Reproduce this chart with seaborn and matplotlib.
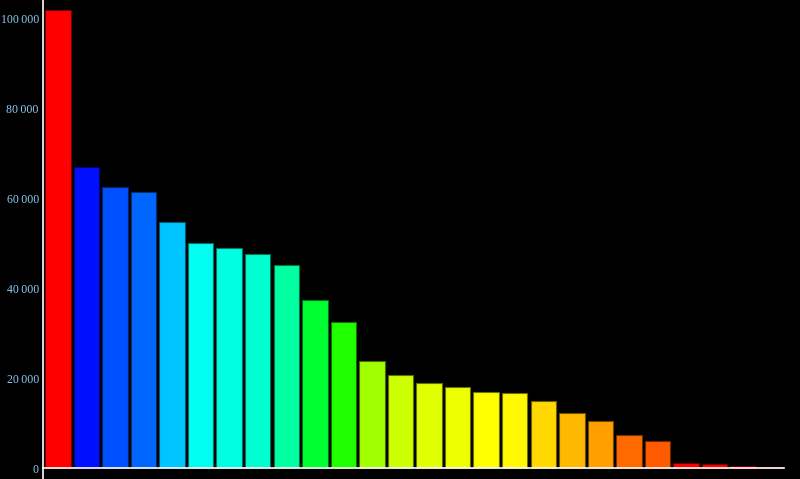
import numpy as np
import pandas as pd
import matplotlib
matplotlib.use('Agg')
import matplotlib.pyplot as plt
import matplotlib.colors as mcolors
from matplotlib.ticker import FuncFormatter, MultipleLocator
import seaborn as sns

# data
categories = [f'c{i+1}' for i in range(26)]
values = [101800, 67000, 62500, 61400, 54700, 50000, 48900, 47600, 45200,
          37400, 32500, 23800, 20700, 18900, 18000, 16900, 16700, 14900,
          12200, 10500, 7300, 6000, 1100, 800, 500, 200]
bar_colors = ['#ff0000', '#0010ff', '#0050ff', '#0066ff', '#00c4ff', '#00fff0',
              '#00ffe0', '#00ffd0', '#00ffa0', '#00ff30', '#20ff00', '#a0ff00',
              '#ccff00', '#e0ff00', '#eeff00', '#ffff00', '#fff800', '#ffd800',
              '#ffb800', '#ffa000', '#ff6a00', '#ff5a00', '#ff0000', '#ff0000',
              '#ff0000', '#ff0000']

df = pd.DataFrame({'cat': categories, 'val': values})
pal = dict(zip(categories, bar_colors))

sns.set_style('dark')
plt.rcParams['font.family'] = ['Liberation Serif', 'DejaVu Serif']

fig = plt.figure(figsize=(8, 4.79), dpi=100, facecolor='black')
ax = fig.add_axes([43 / 800, 0, 741 / 800, 1])
ax.set_facecolor('black')

sns.barplot(data=df, x='cat', y='val', hue='cat', palette=pal, legend=False,
            width=0.89, saturation=1, ax=ax)
for patch, c in zip(ax.patches, bar_colors):
    rgb = np.array(mcolors.to_rgb(c)) * 0.45
    patch.set_edgecolor(rgb)
    patch.set_linewidth(0.8)

ax.set_xlim(-0.52, 25.43)
ax.set_ylim(-2447, 104120)
ax.grid(False)
ax.set(xlabel=None, ylabel=None)

for s in ['top', 'right']:
    ax.spines[s].set_visible(False)
ax.spines['left'].set_color('white')
ax.spines['bottom'].set_color('white')
ax.spines['left'].set_linewidth(1.2)
ax.spines['bottom'].set_linewidth(1.2)
ax.spines['bottom'].set_position(('data', 0))

ax.yaxis.set_major_locator(MultipleLocator(20000))
ax.yaxis.set_minor_locator(MultipleLocator(5000))
ax.yaxis.set_major_formatter(FuncFormatter(
    lambda v, p: f'{int(v):,}'.replace(',', '\u2009')))
ax.tick_params(axis='y', which='major', direction='in', length=4.5, width=1,
               color='white', labelcolor='#8ccff5', labelsize=8.5, pad=3)
ax.tick_params(axis='y', which='minor', direction='in', length=2.3, width=1,
               color='white')
ax.set_xticks([-0.45, 25.43])
ax.set_xticklabels([])
ax.tick_params(axis='x', direction='out', length=5, width=1, color='white')

fig.savefig('out.png', dpi=100, facecolor='black')
